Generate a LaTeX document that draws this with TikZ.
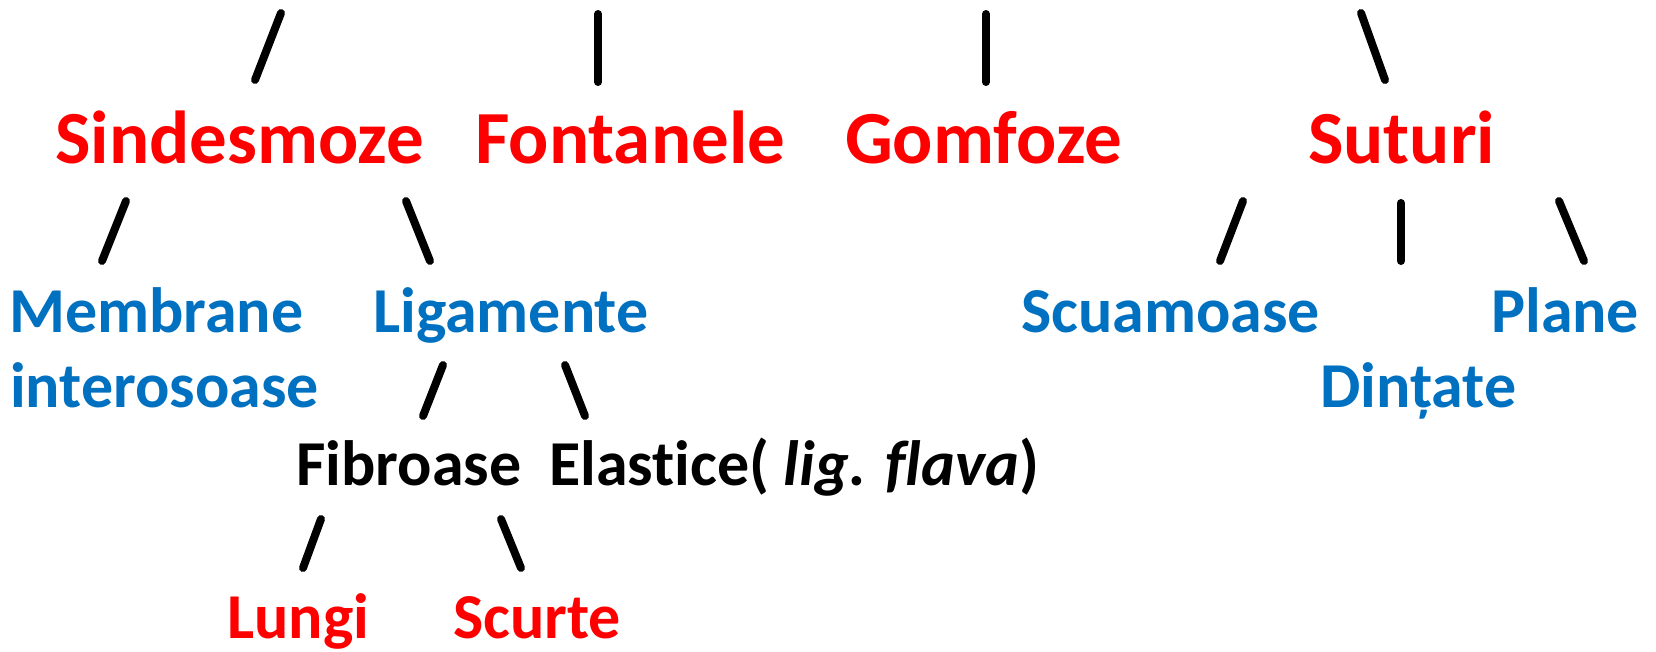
\documentclass[tikz,border=0pt]{standalone}
\usepackage{fontspec}
\setmainfont{Carlito}[Ligatures=NoCommon]
\definecolor{tred}{RGB}{255,0,0}
\definecolor{tblue}{RGB}{0,112,192}
\begin{document}
\begin{tikzpicture}[x=1pt,y=-1pt,
  big/.style={font=\fontsize{75}{82}\selectfont\bfseries, inner sep=0pt, anchor=base west},
  mid/.style={font=\fontsize{64}{72}\selectfont\bfseries, inner sep=0pt, anchor=base west},
  redtxt/.style={text=tred},
  bluetxt/.style={text=tblue},
  bar/.style={line width=8pt, line cap=round}]
\useasboundingbox (0,0) rectangle (1656,651);
% level 1
\node[big,redtxt] (sind) at (55,163) {Sindesmoze};
\node[big,redtxt] (font) at (475,163) {Fontanele};
\node[big,redtxt] (gomf) at (845,163) {Gomfoze};
\node[big,redtxt] (sut) at (1308,163) {Suturi};
% level 2
\node[mid,bluetxt] (memb) at (9,332) {Membrane};
\node[mid,bluetxt] (inter) at (10,407) {interosoase};
\node[mid,bluetxt] (lig) at (373,332) {Ligamente};
\node[mid,bluetxt] (scu) at (1021,332) {Scuamoase};
\node[mid,bluetxt] (plane) at (1491,332) {Plane};
\node[mid,bluetxt] (dint) at (1320,407) {Dințate};
% level 3
\node[mid] (fib) at (296,485) {Fibroase};
\node[mid] (elas) at (549,485) {Elastice( \textit{lig. flava})};
% level 4
\node[mid,redtxt] (lung) at (227,638) {Lungi};
\node[mid,redtxt] (scurt) at (453,638) {Scurte};
% connectors (stroke marks)
\draw[bar] (281,13) coordinate (a1) -- (255,80) coordinate (a2);
\draw[bar] (598,14) coordinate (b1) -- (598,82) coordinate (b2);
\draw[bar] (986,14) coordinate (c1) -- (986,82) coordinate (c2);
\draw[bar] (1361,13) coordinate (d1) -- (1385,80) coordinate (d2);
\draw[bar] (126,201) coordinate (e1) -- (102,261) coordinate (e2);
\draw[bar] (406,201) coordinate (f1) -- (430,261) coordinate (f2);
\draw[bar] (1243,201) coordinate (g1) -- (1220,261) coordinate (g2);
\draw[bar] (1401,203) coordinate (h1) -- (1401,261) coordinate (h2);
\draw[bar] (1559,201) coordinate (i1) -- (1584,261) coordinate (i2);
\draw[bar] (443,365) coordinate (j1) -- (423,416) coordinate (j2);
\draw[bar] (565,365) coordinate (k1) -- (585,416) coordinate (k2);
\draw[bar] (321,519) coordinate (l1) -- (303,568) coordinate (l2);
\draw[bar] (501,519) coordinate (m1) -- (521,568) coordinate (m2);
\end{tikzpicture}
\end{document}
